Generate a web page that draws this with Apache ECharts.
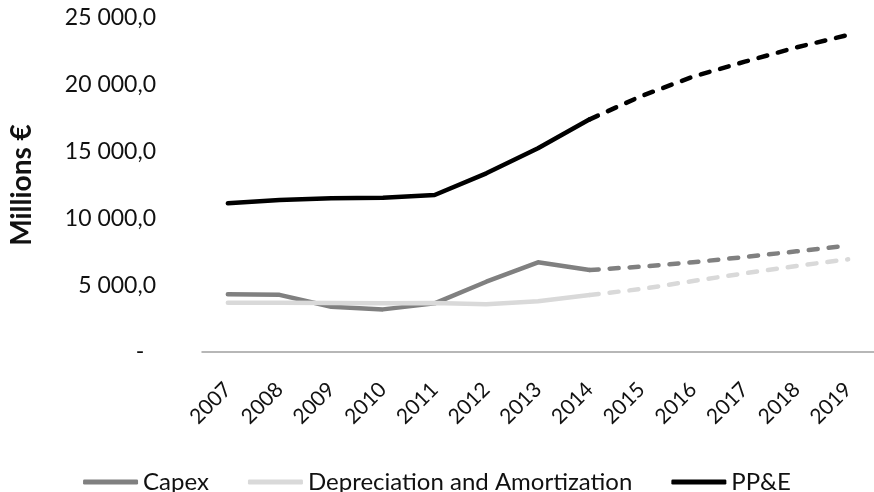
<!DOCTYPE html>
<html>
<head>
<meta charset="utf-8">
<script src="https://cdn.jsdelivr.net/npm/echarts@6/dist/echarts.min.js"></script>
<style>
  html, body { margin: 0; padding: 0; background: #fff; }
  #chart { width: 874px; height: 492px; }
</style>
</head>
<body>
<div id="chart"></div>
<script>
// Fiscal years on the category axis
const years = ['2007','2008','2009','2010','2011','2012','2013','2014','2015','2016','2017','2018','2019'];

// Reported values 2007–2014 (millions €)
const capexActual = [4320, 4280, 3390, 3190, 3640, 5260, 6715, 6140];
const daActual    = [3690, 3690, 3660, 3650, 3660, 3580, 3800, 4270];
const ppeActual   = [11130, 11380, 11500, 11550, 11750, 13375, 15245, 17415];

// Projected values 2015–2019 (millions €)
const capexForecast = [6390, 6715, 7110, 7535, 7960];
const daForecast    = [4715, 5315, 5890, 6440, 6940];
const ppeForecast   = [19160, 20610, 21730, 22800, 23730];

const yTicks = [0, 5000, 10000, 15000, 20000, 25000];

const FONT = 'Lato';
const nProj = capexForecast.length;

// Solid part: actuals followed by gaps; dashed part: starts at the last actual
function solidPart(actual) {
  return actual.concat(new Array(nProj).fill(null));
}
function dashedPart(actual, forecast) {
  return new Array(actual.length - 1).fill(null).concat([actual[actual.length - 1]], forecast);
}

// Accounting-style number format: "25 000,0", zero shown as a dash
function fmt(v) {
  if (v === 0) return '-\u00a0\u00a0';
  const s = String(Math.round(v)).replace(/\B(?=(\d{3})+(?!\d))/g, ' ');
  return s + ',0';
}

function lineSeries(name, color, width, data, dashed, z) {
  return {
    name: name,
    type: 'line',
    data: data,
    symbol: 'none',
    connectNulls: false,
    z: z,
    animation: false,
    lineStyle: {
      color: color,
      width: width,
      type: dashed ? [9, 11] : 'solid',
      cap: 'round',
      join: 'round'
    },
    itemStyle: { color: color }
  };
}

const chart = echarts.init(document.getElementById('chart'), null, { renderer: 'canvas' });

chart.setOption({
  backgroundColor: '#ffffff',
  animation: false,
  grid: { left: 193, right: -3, top: 18, bottom: 140, containLabel: false },
  legend: {
    data: ['Capex', 'Depreciation and Amortization', 'PP&E'],
    left: 'center',
    top: 465,
    icon: 'roundRect',
    itemWidth: 55,
    itemHeight: 5,
    itemGap: 39,
    textStyle: { fontFamily: FONT, fontSize: 24, color: '#111' }
  },
  xAxis: {
    type: 'category',
    data: years,
    boundaryGap: true,
    axisLine: { show: true, lineStyle: { color: '#a0a0a0', width: 1.5 } },
    axisTick: { show: false },
    axisLabel: {
      rotate: 45,
      margin: 34,
      interval: 0,
      fontFamily: FONT,
      fontSize: 21,
      color: '#111'
    },
    splitLine: { show: false }
  },
  yAxis: {
    type: 'value',
    min: yTicks[0],
    max: yTicks[yTicks.length - 1],
    interval: yTicks[1] - yTicks[0],
    axisLine: { show: false },
    axisTick: { show: false },
    splitLine: { show: false },
    axisLabel: {
      margin: 46,
      fontFamily: FONT,
      fontSize: 23,
      color: '#111',
      formatter: fmt
    },
    name: 'Millions €',
    nameLocation: 'middle',
    nameRotate: 90,
    nameGap: 166,
    nameTextStyle: { fontFamily: FONT, fontSize: 28, fontWeight: 'bold', color: '#111' }
  },
  series: [
    lineSeries('Capex', '#808080', 4.5, solidPart(capexActual), false, 2),
    lineSeries('Capex', '#808080', 4.5, dashedPart(capexActual, capexForecast), true, 2),
    lineSeries('Depreciation and Amortization', '#d9d9d9', 4.5, solidPart(daActual), false, 3),
    lineSeries('Depreciation and Amortization', '#d9d9d9', 4.5, dashedPart(daActual, daForecast), true, 3),
    lineSeries('PP&E', '#000000', 4.5, solidPart(ppeActual), false, 4),
    lineSeries('PP&E', '#000000', 4.5, dashedPart(ppeActual, ppeForecast), true, 4)
  ]
});
</script>
</body>
</html>
